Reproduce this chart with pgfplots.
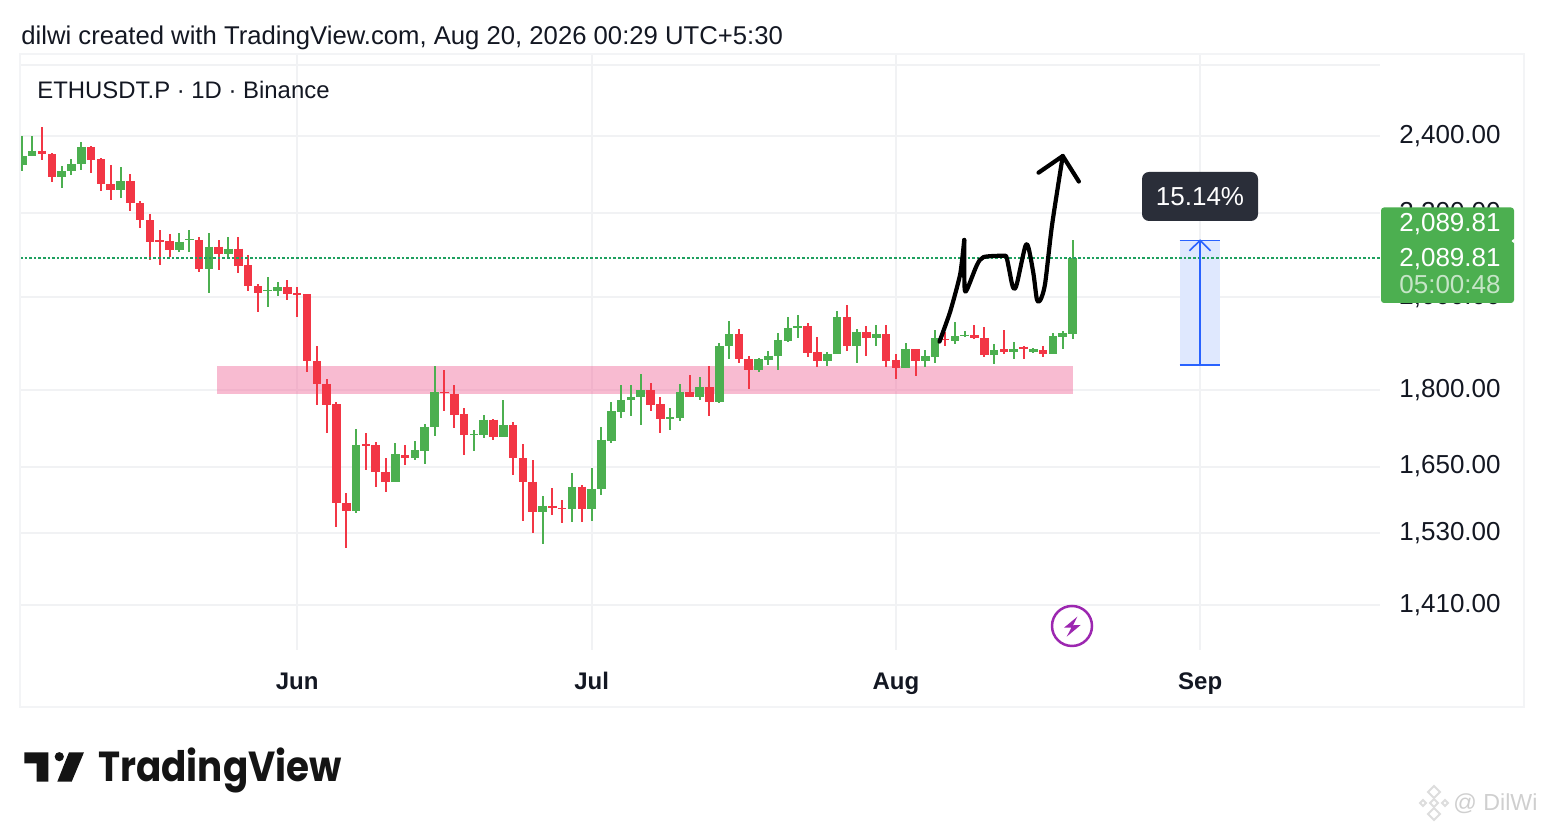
\documentclass[border=0pt]{standalone}
\usepackage{fontspec}
\setmainfont{Liberation Sans}
\newfontfamily\tvfont{Poppins}
\usepackage{pgfplots}
\usepackage{pgfplotstable}
\pgfplotsset{compat=1.18}
\usetikzlibrary{calc}
\definecolor{up}{HTML}{4CAF50}
\definecolor{down}{HTML}{F23645}
\definecolor{gridc}{HTML}{F1F2F4}
\definecolor{frame}{HTML}{F3F4F6}
\definecolor{zone}{HTML}{F1709F}
\definecolor{toolb}{HTML}{2962FF}
\definecolor{toolf}{HTML}{DFE8FE}
\definecolor{lastp}{HTML}{1FA060}
\definecolor{dark}{HTML}{2A2E39}
\definecolor{txt}{HTML}{131722}
\definecolor{purp}{HTML}{9C27B0}
\definecolor{wm}{HTML}{CFCFCF}
% day number (1 Jun = 0), open, high, low, close
\pgfplotstableread{
d o h l c
-28 2321 2400 2307 2346
-27 2346 2400 2346 2360
-24 2290 2320 2263 2307
-23 2306 2338 2297 2325
-22 2325 2383 2309 2370
-18 2257 2317 2237 2281
-12 2109 2149 2103 2129
-11 2132 2158 2105 2135
-9 2064 2149 2008 2117
-7 2099 2141 2091 2112
-3 2012 2046 1977 2016
-2 2013 2033 2002 2022
6 1568 1721 1565 1691
10 1622 1694 1622 1673
12 1666 1698 1662 1681
13 1680 1732 1655 1726
14 1725 1849 1709 1795
18 1710 1720 1680 1712
19 1710 1749 1704 1740
21 1706 1780 1706 1729
25 1567 1595 1512 1578
28 1572 1638 1550 1613
30 1572 1647 1552 1609
31 1608 1726 1597 1701
32 1699 1776 1695 1757
33 1756 1809 1744 1780
34 1780 1809 1748 1786
35 1785 1833 1729 1799
38 1742 1763 1720 1745
39 1743 1811 1738 1796
41 1786 1826 1779 1805
43 1775 1898 1773 1892
44 1891 1947 1864 1917
47 1840 1867 1837 1863
48 1862 1880 1851 1871
49 1871 1919 1842 1905
50 1903 1955 1900 1931
51 1931 1960 1909 1935
54 1860 1878 1850 1875
55 1874 1968 1874 1955
57 1891 1929 1856 1922
59 1909 1937 1892 1917
62 1844 1898 1844 1884
64 1859 1883 1848 1870
65 1869 1926 1855 1908
67 1903 1943 1895 1912
68 1912 1925 1911 1916
71 1872 1897 1854 1883
73 1879 1900 1863 1885
75 1879 1888 1876 1885
77 1875 1919 1874 1912
78 1911 1923 1885 1919
79 1917 2132 1906 2089.81
}\upcandles
\pgfplotstableread{
d o h l c
-26 2360 2424 2336 2350
-25 2351 2353 2278 2290
-21 2370 2374 2302 2336
-20 2338 2340 2256 2273
-19 2273 2322 2232 2257
-17 2281 2299 2204 2224
-16 2224 2230 2161 2181
-15 2181 2197 2086 2129
-14 2132 2158 2074 2128
-13 2131 2147 2093 2110
-10 2133 2141 2057 2064
-8 2117 2132 2062 2099
-6 2112 2140 2054 2072
-5 2073 2097 2014 2024
-4 2025 2030 1966 2009
-1 2022 2039 1993 2006
0 2008 2022 1956 2004
1 2006 2006 1837 1860
2 1860 1892 1769 1812
3 1812 1822 1714 1770
4 1771 1775 1540 1583
5 1583 1601 1505 1568
7 1692 1715 1644 1689
8 1690 1696 1613 1639
9 1640 1667 1603 1622
11 1672 1691 1653 1667
15 1796 1841 1758 1793
16 1792 1810 1724 1750
17 1751 1763 1672 1710
20 1740 1741 1701 1706
22 1729 1736 1634 1666
23 1666 1693 1552 1622
24 1622 1662 1531 1567
26 1578 1610 1562 1574
27 1574 1589 1547 1572
29 1613 1615 1550 1572
36 1799 1813 1757 1770
37 1771 1785 1713 1742
40 1796 1830 1786 1786
42 1805 1849 1748 1775
45 1917 1929 1856 1863
46 1864 1871 1802 1841
52 1934 1941 1869 1877
53 1879 1910 1846 1860
56 1955 1982 1881 1891
58 1922 1935 1871 1909
60 1917 1937 1847 1860
61 1862 1875 1822 1844
63 1884 1886 1828 1859
66 1907 1921 1892 1904
69 1915 1937 1906 1908
70 1909 1932 1868 1872
72 1884 1926 1874 1879
74 1890 1892 1864 1886
76 1883 1892 1869 1875
}\downcandles
\pgfplotsset{
  wick/.style={draw=none,forget plot,mark=none,
    error bars/.cd,y dir=both,y explicit,error mark=none,
    error bar style={line width=1pt,color=#1}},
  body/.style={draw=none,forget plot,mark=none,
    error bars/.cd,y dir=both,y explicit,error mark=none,
    error bar style={line width=4.3pt,color=#1}},
}
\begin{document}
\begin{tikzpicture}
\path[use as bounding box] (0,0) rectangle (772pt,414pt);
\begin{axis}[
  at={(10pt,89pt)},anchor=south west,
  scale only axis,width=680pt,height=297.5pt,
  xmin=-28.24,xmax=110.32,
  ymode=log,ymin=1340.3,ymax=2630.9,
  axis line style={draw=none},
  major tick length=0pt,minor tick length=0pt,
  xtick={0,30,61,92},xticklabels={Jun,Jul,Aug,Sep},
  ytick={1410,1530,1650,1800,2000,2200,2400,2600},
  yticklabels={{1,410.00},{1,530.00},{1,650.00},{1,800.00},{2,000.00},{2,200.00},{2,400.00},{}},
  yticklabel pos=right,
  grid=major,
  grid style={color=gridc,line width=1pt},
  x tick label style={font=\fontsize{12}{14}\selectfont\bfseries,text=txt,anchor=base,yshift=-19.8pt,inner sep=0pt},
  y tick label style={font=\fontsize{13}{15}\selectfont,text=txt,anchor=west,inner sep=0pt,xshift=9.5pt},
  /pgf/number format/assume math mode=true,
]
% support / resistance zone
\addplot[draw=none,fill=zone,fill opacity=0.48,forget plot] coordinates {(-8.15,1792)(-8.15,1849)(79.06,1849)(79.06,1792)} -- cycle;
% measuring tool
\addplot[draw=none,fill=toolf,forget plot] coordinates {(89.9,1851)(89.9,2132)(94,2132)(94,1851)} -- cycle;
% candles
\addplot[wick=up] table[x=d,y=c,y error plus expr=\thisrow{h}-\thisrow{c},y error minus expr=\thisrow{c}-\thisrow{l}] {\upcandles};
\addplot[body=up] table[x=d,y=c,y error plus expr=0,y error minus expr=\thisrow{c}-\thisrow{o}] {\upcandles};
\addplot[wick=down] table[x=d,y=c,y error plus expr=\thisrow{h}-\thisrow{c},y error minus expr=\thisrow{c}-\thisrow{l}] {\downcandles};
\addplot[body=down] table[x=d,y=o,y error plus expr=0,y error minus expr=\thisrow{o}-\thisrow{c}] {\downcandles};
% last price
\addplot[lastp,line width=1pt,dash pattern=on 1.3pt off 1pt,forget plot] coordinates {(-28.24,2089.81)(110.32,2089.81)};
% measuring tool lines
\addplot[toolb,line width=0.8pt,forget plot] coordinates {(89.9,2132)(94,2132)};
\addplot[toolb,line width=0.8pt,forget plot] coordinates {(89.9,1851)(94,1851)};
\addplot[toolb,line width=0.8pt,forget plot] coordinates {(92,1851)(92,2132)};
\addplot[toolb,line width=0.8pt,forget plot] coordinates {(90.9,2107)(92,2132)(93.05,2107)};
% hand-drawn path
\addplot[black,line width=2.1pt,line cap=round,line join=round,smooth,tension=0.35,forget plot] coordinates {
(65.44,1901)(66.53,1967)(67.55,2052)(67.96,2133)};
\addplot[black,line width=2.1pt,line cap=round,line join=round,smooth,tension=0.45,forget plot] coordinates {
(67.96,2133)(67.99,2023)(68.23,2016)(69.25,2073)(69.93,2092)(71.97,2095)(72.3,2089)(72.82,2030)(73.05,2018)(73.33,2030)(74.17,2117)(74.51,2114)(75.02,2052)(75.36,1995)(75.7,1992)(76.2,2030)(76.9,2168)(78.0,2346)};
\addplot[black,line width=2.1pt,line cap=round,line join=round,forget plot] coordinates {(75.53,2302)(78.0,2346)(79.64,2279)};
\end{axis}
% pixel coordinates of the reference
\begin{scope}[shift={(0pt,414pt)},x=.5pt,y=-.5pt]
\draw[frame,line width=0.7pt] (20,54) rectangle (1524,707);
% titles
\node[anchor=base west,inner sep=0pt,text=txt,font=\fontsize{12.84}{14}\selectfont] at (21,45) {dilwi created with TradingView.com, Aug 20, 2026 00:29 UTC+5:30};
\node[anchor=base west,inner sep=0pt,text=txt,font=\fontsize{11.95}{14}\selectfont] at (37,99) {ETHUSDT.P · 1D · Binance};
% price labels
\fill[up,rounded corners=1.5pt] (1381,207.5) -- (1514,207.5) -- (1514,303) -- (1381,303) -- cycle;
\fill[white] (1514.5,238.5) -- (1511.5,241) -- (1514.5,243.5) -- cycle;
\node[anchor=base east,inner sep=0pt,text=white,font=\fontsize{13}{15}\selectfont] at (1501,232) {2,089.81};
\node[anchor=base east,inner sep=0pt,text=white,font=\fontsize{13}{15}\selectfont] at (1501,266.5) {2,089.81};
\node[anchor=base east,inner sep=0pt,text=white!68!up,font=\fontsize{13}{15}\selectfont] at (1501,294) {05:00:48};
% percent label
\fill[dark,rounded corners=3.5pt] (1142,172) rectangle (1258,221);
\node[anchor=center,inner sep=0pt,text=white,font=\fontsize{13}{15}\selectfont] at (1200,197) {15.14\%};
% lightning badge
\draw[purp,line width=1.25pt,fill=white] (1072,626) circle (40/2);
\fill[purp] (1077.3,616.7) -- (1064,627.7) -- (1071.5,627.5) -- (1066.7,636.7) -- (1080.7,625) -- (1073,625.3) -- cycle;
% TradingView logo
\fill[black!92] (24.3,752.3) -- (48.3,752.3) -- (48.3,781.7) -- (36.7,781.7) -- (36.7,763.3) -- (24.3,763.3) -- cycle;
\fill[black!92] (59.3,756.7) circle (4.6);
\fill[black!92] (69,752.3) -- (84,752.3) -- (71.7,781.7) -- (57.3,781.7) -- cycle;
\node[anchor=base west,inner sep=0pt,text=black!92,font=\tvfont\bfseries\fontsize{21}{24}\selectfont,xscale=0.887] at (98,782) {TradingView};
% watermark
\foreach \cx/\cy/\r in {1434/792/6,1423/803/3,1445/803/3,1434/803/4,1434/814/6}
  \draw[wm!70,line width=0.9pt] (\cx-\r,\cy) -- (\cx,\cy-\r) -- (\cx+\r,\cy) -- (\cx,\cy+\r) -- cycle;
\node[anchor=base west,inner sep=0pt,text=wm,font=\fontsize{11.6}{14}\selectfont] at (1453,811) {@ DilWi};
\end{scope}
\end{tikzpicture}
\end{document}
